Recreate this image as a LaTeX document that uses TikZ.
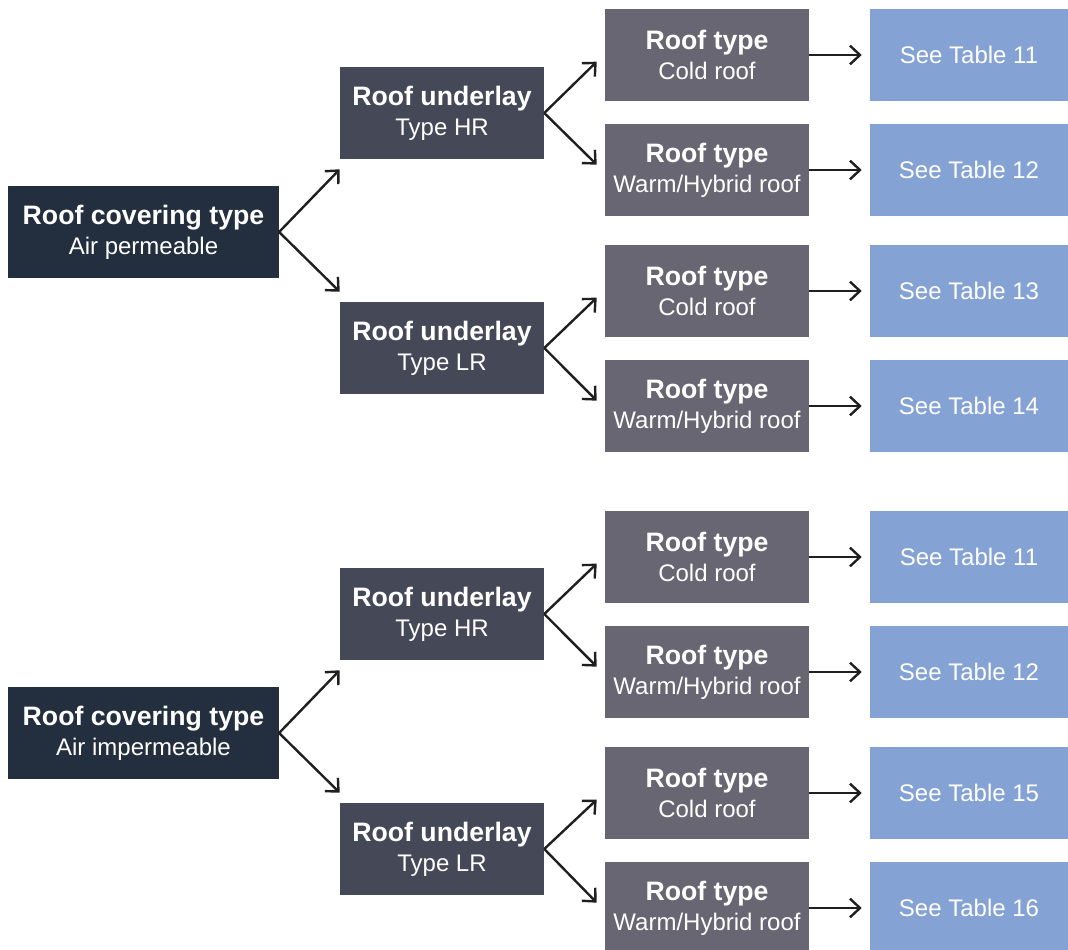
\documentclass[tikz,border=0pt]{standalone}
\usepackage{fontspec}
\setmainfont{Liberation Sans}
\usetikzlibrary{arrows.meta}
\definecolor{coverclr}{HTML}{232F3E}
\definecolor{underlayclr}{HTML}{454857}
\definecolor{rooftypeclr}{HTML}{676672}
\definecolor{tableclr}{HTML}{84A2D4}
\tikzset{
    box/.style={inner sep=0pt, text=white, align=center, minimum height=69pt, font=\fontsize{18}{22.5}\selectfont},
    cover/.style={box, fill=coverclr, minimum width=203pt},
    underlay/.style={box, fill=underlayclr, minimum width=153pt},
    rooftype/.style={box, fill=rooftypeclr, minimum width=153pt},
    tablebox/.style={box, fill=tableclr, minimum width=148.5pt},
    link/.style={line width=1.8pt, draw=black!88, -{Straight Barb[length=7.5pt,width=14pt]}},
}
\newcommand{\boxtitle}[1]{{\fontsize{20}{22.5}\selectfont\bfseries #1}}
\begin{document}
\begin{tikzpicture}[x=0.75pt, y=-0.75pt]
    \useasboundingbox (0,0) rectangle (1068,950);
    % air permeable
    \node[cover] (pcover) at (143.5,232) {\boxtitle{Roof covering type}\\Air permeable};
    \node[underlay] (phr) at (442,113) {\boxtitle{Roof underlay}\\Type HR};
    \node[underlay] (plr) at (442,348) {\boxtitle{Roof underlay}\\Type LR};
    \node[rooftype] (pcold1) at (707,55) {\boxtitle{Roof type}\\Cold roof};
    \node[rooftype] (pwarm1) at (707,170) {\boxtitle{Roof type}\\Warm/Hybrid roof};
    \node[rooftype] (pcold2) at (707,291) {\boxtitle{Roof type}\\Cold roof};
    \node[rooftype] (pwarm2) at (707,406) {\boxtitle{Roof type}\\Warm/Hybrid roof};
    \node[tablebox] (ptab1) at (969,55) {See Table 11};
    \node[tablebox] (ptab2) at (969,170) {See Table 12};
    \node[tablebox] (ptab3) at (969,291) {See Table 13};
    \node[tablebox] (ptab4) at (969,406) {See Table 14};
    \draw[link] (pcover.east) -- ([yshift=-7.5pt]phr.south west);
    \draw[link] (pcover.east) -- ([yshift=7.5pt]plr.north west);
    \draw[link] (phr.east) -- ([xshift=-6pt,yshift=-5pt]pcold1.west);
    \draw[link] (phr.east) -- ([xshift=-6pt,yshift=4pt]pwarm1.west);
    \draw[link] (plr.east) -- ([xshift=-6pt,yshift=-5pt]pcold2.west);
    \draw[link] (plr.east) -- ([xshift=-6pt,yshift=4pt]pwarm2.west);
    \draw[link] (pcold1.east) -- ([xshift=-6pt]ptab1.west);
    \draw[link] (pwarm1.east) -- ([xshift=-6pt]ptab2.west);
    \draw[link] (pcold2.east) -- ([xshift=-6pt]ptab3.west);
    \draw[link] (pwarm2.east) -- ([xshift=-6pt]ptab4.west);
    % air impermeable
    \node[cover] (icover) at (143.5,733) {\boxtitle{Roof covering type}\\Air impermeable};
    \node[underlay] (ihr) at (442,614) {\boxtitle{Roof underlay}\\Type HR};
    \node[underlay] (ilr) at (442,849) {\boxtitle{Roof underlay}\\Type LR};
    \node[rooftype] (icold1) at (707,557) {\boxtitle{Roof type}\\Cold roof};
    \node[rooftype] (iwarm1) at (707,672) {\boxtitle{Roof type}\\Warm/Hybrid roof};
    \node[rooftype] (icold2) at (707,793) {\boxtitle{Roof type}\\Cold roof};
    \node[rooftype] (iwarm2) at (707,908) {\boxtitle{Roof type}\\Warm/Hybrid roof};
    \node[tablebox] (itab1) at (969,557) {See Table 11};
    \node[tablebox] (itab2) at (969,672) {See Table 12};
    \node[tablebox] (itab3) at (969,793) {See Table 15};
    \node[tablebox] (itab4) at (969,908) {See Table 16};
    \draw[link] (icover.east) -- ([yshift=-7.5pt]ihr.south west);
    \draw[link] (icover.east) -- ([yshift=7.5pt]ilr.north west);
    \draw[link] (ihr.east) -- ([xshift=-6pt,yshift=-5pt]icold1.west);
    \draw[link] (ihr.east) -- ([xshift=-6pt,yshift=4pt]iwarm1.west);
    \draw[link] (ilr.east) -- ([xshift=-6pt,yshift=-5pt]icold2.west);
    \draw[link] (ilr.east) -- ([xshift=-6pt,yshift=4pt]iwarm2.west);
    \draw[link] (icold1.east) -- ([xshift=-6pt]itab1.west);
    \draw[link] (iwarm1.east) -- ([xshift=-6pt]itab2.west);
    \draw[link] (icold2.east) -- ([xshift=-6pt]itab3.west);
    \draw[link] (iwarm2.east) -- ([xshift=-6pt]itab4.west);
\end{tikzpicture}
\end{document}
